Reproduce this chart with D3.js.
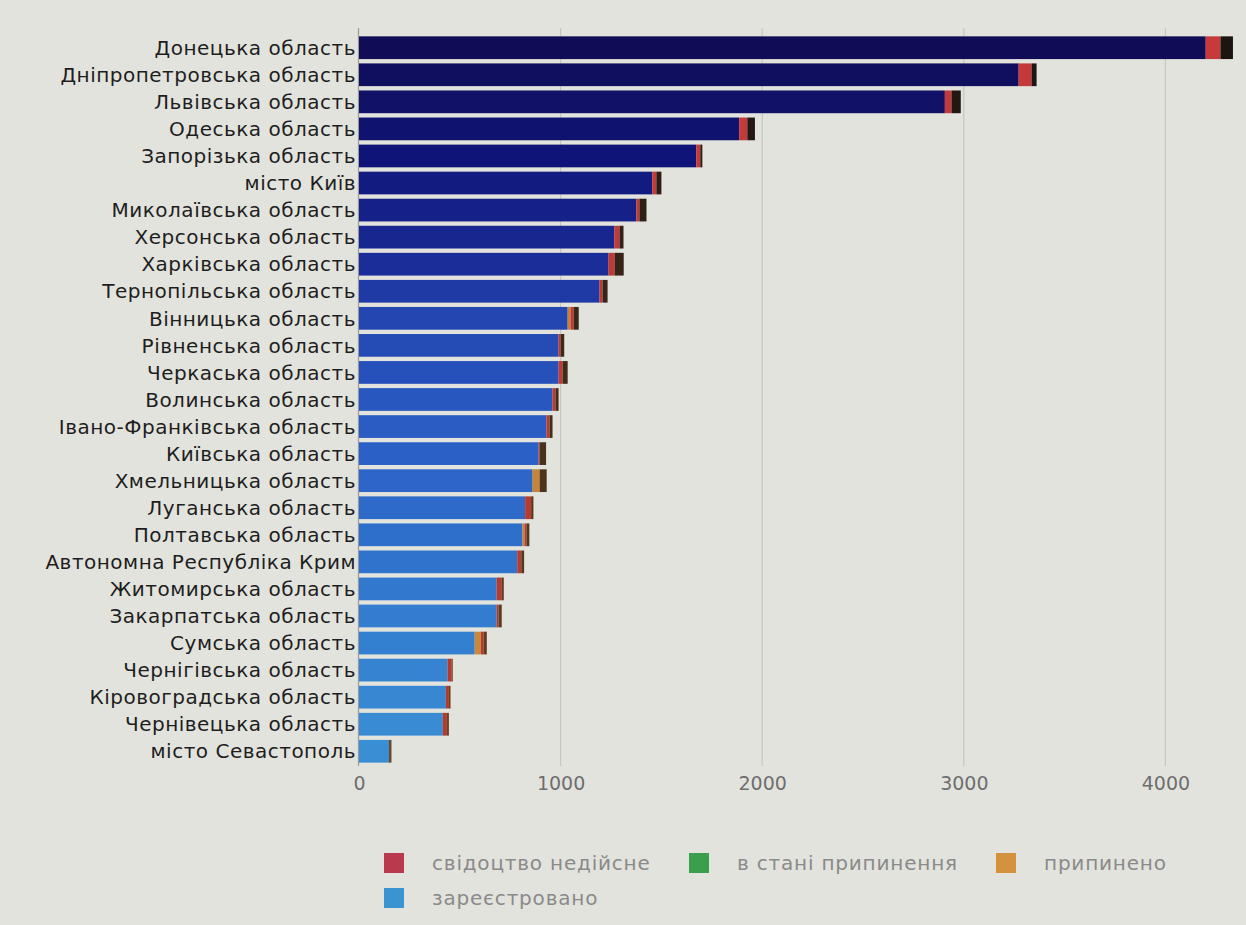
<!DOCTYPE html>
<html>
<head>
<meta charset="utf-8">
<script src="https://cdn.jsdelivr.net/npm/d3@7"></script>
<style>
  html, body { margin: 0; padding: 0; background: #e3e3dd; }
  svg { display: block; }
</style>
</head>
<body>
<svg></svg>
<script>
// regions, top to bottom
var regions = [
  "Донецька область", "Дніпропетровська область", "Львівська область", "Одеська область",
  "Запорізька область", "місто Київ", "Миколаївська область", "Херсонська область",
  "Харківська область", "Тернопільська область", "Вінницька область", "Рівненська область",
  "Черкаська область", "Волинська область", "Івано-Франківська область", "Київська область",
  "Хмельницька область", "Луганська область", "Полтавська область", "Автономна Республіка Крим",
  "Житомирська область", "Закарпатська область", "Сумська область", "Чернігівська область",
  "Кіровоградська область", "Чернівецька область", "місто Севастополь"
];
// зареєстровано
var registered = [4200, 3272, 2906, 1886, 1673, 1455, 1376, 1267, 1238, 1193, 1035, 990, 990, 960,
  930, 891, 861, 824, 811, 785, 683, 683, 574, 440, 431, 416, 149];
// припинено
var terminated = [0, 0, 0, 0, 0, 0, 0, 0, 0, 0, 15, 0, 0, 0, 0, 0, 35, 0, 10, 0, 0, 0, 30, 0, 0, 0, 0];
// свідоцтво недійсне
var invalid = [73, 64, 33, 40, 20, 20, 15, 25, 30, 15, 15, 10, 20, 15, 15, 5, 0, 30, 10, 20, 25, 10, 15, 20, 15, 20, 0];
// в стані припинення
var inTermination = [62, 25, 46, 38, 10, 25, 35, 20, 45, 25, 25, 18, 25, 15, 15, 32, 35, 11, 14, 14, 10, 15, 15, 5, 8, 10, 12];

var xTicks = [0, 1000, 2000, 3000, 4000];

var svgWidth = 1246, svgHeight = 925;
var svg = d3.select("svg")
    .attr("width", svgWidth)
    .attr("height", svgHeight);

var xScale = d3.scaleLinear().domain([0, 4370]).range([359, 1240]);
var yScale = d3.scaleBand().domain(regions).range([35, 764]).paddingInner(0.16).paddingOuter(0.05);

var n = regions.length;
// bar colours get lighter from top row to bottom row
var regColor = d3.scaleLinear()
    .domain([0, 4, 8, 10, 14, 18, 22, 26])
    .range(["#100c55", "#0f1578", "#1b2d98", "#2346b0", "#2a5cc4", "#2f6fcc", "#3480d0", "#3a8ed4"]);
var redColor = d3.scaleLinear().domain([0, 26]).range(["#c63a3a", "#b43a2a"]);
var darkColor = d3.scaleLinear().domain([0, 26]).range(["#1c1411", "#6a4622"]);
var orangeColor = d3.scaleLinear().domain([0, 26]).range(["#c07a34", "#cc8a3c"]);

var series = [
  {values: registered, color: regColor},
  {values: terminated, color: orangeColor},
  {values: invalid, color: redColor},
  {values: inTermination, color: darkColor}
];

// grid lines
svg.append("g")
  .selectAll("line")
  .data(xTicks.slice(1))
  .enter().append("line")
    .attr("x1", function(d) { return xScale(d); })
    .attr("x2", function(d) { return xScale(d); })
    .attr("y1", 28)
    .attr("y2", 766)
    .attr("stroke", "#c6c6c2")
    .attr("stroke-width", 1.2);

// y axis line
svg.append("line")
  .attr("x1", xScale(0) - 0.5).attr("x2", xScale(0) - 0.5)
  .attr("y1", 28).attr("y2", 766)
  .attr("stroke", "#9a9a98").attr("stroke-width", 1.2);

// stacked bars
var bars = svg.append("g");
for (var i = 0; i < n; i++) {
  var x0 = 0;
  for (var s = 0; s < series.length; s++) {
    var v = series[s].values[i];
    if (v > 0) {
      bars.append("rect")
        .attr("x", xScale(x0))
        .attr("y", yScale(regions[i]))
        .attr("width", xScale(x0 + v) - xScale(x0))
        .attr("height", yScale.bandwidth())
        .attr("fill", series[s].color(i));
    }
    x0 += v;
  }
}

// category labels
svg.append("g")
  .selectAll("text")
  .data(regions)
  .enter().append("text")
    .attr("x", 356)
    .attr("y", function(d) { return yScale(d) + yScale.bandwidth() / 2; })
    .attr("dy", "0.36em")
    .attr("text-anchor", "end")
    .attr("font-family", "DejaVu Sans, Verdana, sans-serif")
    .attr("font-size", 20)
    .attr("letter-spacing", 0.5)
    .attr("fill", "#1e1e1e")
    .text(function(d) { return d; });

// x axis
var xAxis = d3.axisBottom(xScale).tickValues(xTicks).tickFormat(d3.format("d")).tickSize(0).tickPadding(0);
var axisG = svg.append("g")
  .attr("transform", "translate(0, 776)")
  .call(xAxis);
axisG.select(".domain").remove();
axisG.selectAll("text")
  .attr("dy", "0.71em")
  .attr("font-family", "DejaVu Sans, Verdana, sans-serif")
  .attr("font-size", 19)
  .attr("fill", "#6e6e6e");

// legend
var legendNames = ["свідоцтво недійсне", "в стані припинення", "припинено", "зареєстровано"];
var legendColors = ["#b83a4c", "#3a9f4c", "#d4913e", "#3a94d0"];
var legendPos = [[384, 863], [689, 863], [996, 863], [384, 898]];

var legend = svg.append("g");
legendNames.forEach(function(name, k) {
  var p = legendPos[k];
  legend.append("rect")
    .attr("x", p[0]).attr("y", p[1] - 10)
    .attr("width", 20).attr("height", 20)
    .attr("fill", legendColors[k]);
  legend.append("text")
    .attr("x", p[0] + 48).attr("y", p[1])
    .attr("dy", "0.36em")
    .attr("font-family", "DejaVu Sans, Verdana, sans-serif")
    .attr("font-size", 20)
    .attr("letter-spacing", 0.8)
    .attr("fill", "#8a8a8a")
    .text(name);
});
</script>
</body>
</html>
